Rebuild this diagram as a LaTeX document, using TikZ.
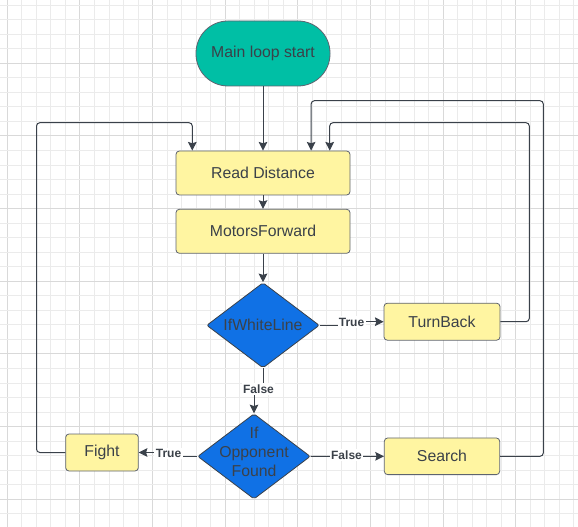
\documentclass[tikz,border=0pt]{standalone}
\usepackage{fontspec}
\setmainfont{Liberation Sans}
\usetikzlibrary{shapes.geometric,arrows.meta,calc}
\definecolor{gridminor}{HTML}{EBEBEB}
\definecolor{gridmajor}{HTML}{D9D9D9}
\definecolor{txtcol}{HTML}{3B4149}
\definecolor{linecol}{HTML}{3A414A}
\definecolor{ylw}{HTML}{FFF5A1}
\definecolor{teal}{HTML}{00BFA5}
\definecolor{blu}{HTML}{1071E5}
\definecolor{bordercol}{HTML}{5E6470}
\tikzset{
  procbox/.style={draw=bordercol, line width=0.6pt, fill=ylw, rounded corners=2.5pt, text=txtcol,
    font=\fontsize{11.85}{14.3}\selectfont, inner sep=0pt},
  startbox/.style={draw=bordercol, line width=0.6pt, fill=teal, rounded corners=24pt, text=txtcol,
    font=\fontsize{11.85}{14.3}\selectfont, inner sep=0pt, minimum width=100.5pt, minimum height=48.75pt},
  decision/.style={diamond, draw=linecol, line width=0.6pt, fill=blu, inner sep=0pt,
    minimum width=84.5pt, minimum height=64pt, rounded corners=1.5pt},
  dtext/.style={text=txtcol, font=\fontsize{11.85}{14.3}\selectfont, align=center, inner sep=0pt},
  conn/.style={draw=linecol, line width=0.75pt, rounded corners=2.5pt,
    -{Stealth[length=6.5pt,width=6.5pt,inset=1pt]}},
  lbl/.style={fill=white, text=txtcol, font=\bfseries\fontsize{9}{10}\selectfont, inner sep=1pt},
}
\begin{document}
\begin{tikzpicture}[x=0.75pt,y=-0.75pt]
\useasboundingbox (0,0) rectangle (578,527);
\fill[white] (0,0) rectangle (578,527);
% grid
\foreach \i in {0,...,40}{
  \pgfmathtruncatemacro{\m}{mod(\i,5)}
  \ifnum\m=0 \def\gc{gridmajor}\else\def\gc{gridminor}\fi
  \draw[\gc, line width=0.75pt] ({7.3+\i*14.53},0) -- ({7.3+\i*14.53},527);
}
\foreach \j in {0,...,37}{
  \pgfmathtruncatemacro{\m}{mod(\j,5)}
  \ifnum\m=0 \def\gc{gridmajor}\else\def\gc{gridminor}\fi
  \draw[\gc, line width=0.75pt] (0,{-9.3+\j*14.53}) -- (578,{-9.3+\j*14.53});
}
% nodes
\node[startbox] (start) at (263,53.5) {Main loop start};
\node[procbox, minimum width=130.5pt, minimum height=33pt] (read) at (263,173) {Read Distance};
\node[procbox, minimum width=130.5pt, minimum height=33pt] (motors) at (263,231.3) {MotorsForward};
\node[decision] (white) at (263,325.3) {};
\node[dtext] (whitetxt) at (white) {IfWhiteLine};
\node[procbox, minimum width=87pt, minimum height=27.75pt] (turn) at (442,321.7) {TurnBack};
\node[decision] (opp) at (254,456.4) {};
\node[dtext] (opptxt) at ($(opp)+(0,-4.5)$) {If\\Opponent\\Found};
\node[procbox, minimum width=54.5pt, minimum height=27.75pt] (fight) at (102,452.5) {Fight};
\node[procbox, minimum width=86.5pt, minimum height=27.5pt] (search) at (442,456.3) {Search};
% helper coordinates
\coordinate (fj) at (263,390);
\coordinate (tj) at (352,325.3);
\coordinate (oj) at (168,456.4);
\coordinate (tbR) at (529.3,122.7);
\coordinate (srR) at (543.3,100.7);
\coordinate (fgL) at (36.5,122.7);
% connectors
\draw[conn] (start) -- (read);
\draw[conn] (read) -- (motors);
\draw[conn] (motors) -- (white.north);
\draw[conn, rounded corners=0pt] (white.south) -- (fj) -| (opp.north);
\node[lbl] (lfalse1) at (258.5,389) {False};
\draw[conn, rounded corners=0pt] (white.east) -- (tj) |- (turn.west);
\node[lbl] (ltrue1) at (351.5,322) {True};
\draw[conn, rounded corners=0pt] (opp.west) -- (oj) |- (fight.east);
\node[lbl] (ltrue2) at (168.5,453.5) {True};
\draw[conn] (opp.east) -- (search.west);
\node[lbl] (lfalse2) at (346.5,455) {False};
\draw[conn] (turn.east) -| (tbR) -| ($(read.north east)+(-20.7,0)$);
\draw[conn] (search.east) -| (srR) -| ($(read.north east)+(-39.3,0)$);
\draw[conn] (fight.west) -| (fgL) -| ($(read.north west)+(16.7,0)$);
\end{tikzpicture}
\end{document}
